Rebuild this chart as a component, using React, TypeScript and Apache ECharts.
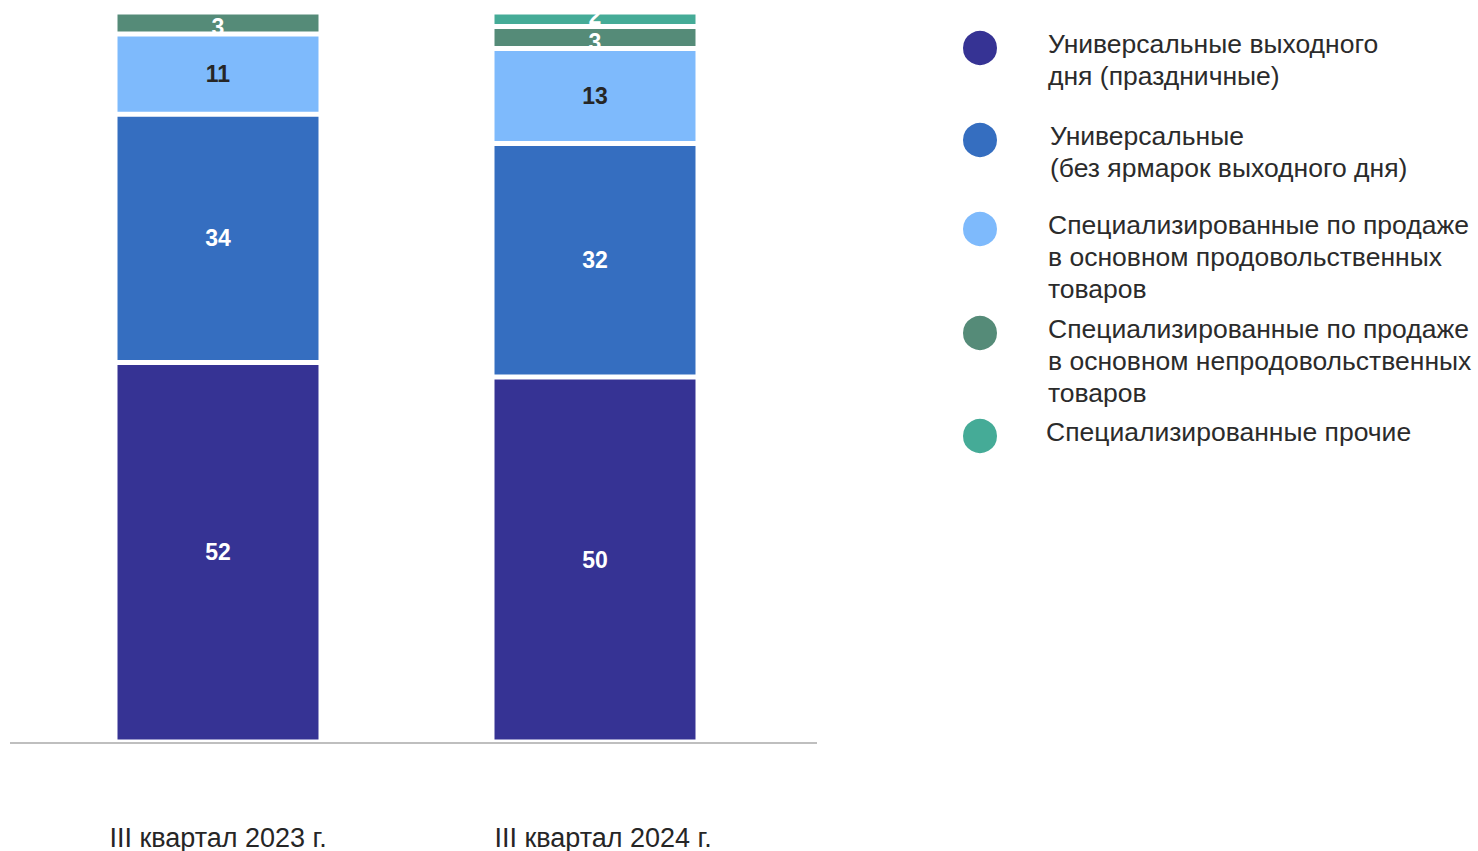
import React, { useEffect, useRef } from "react";
import * as echarts from "echarts";

const categories = ["III квартал 2023 г.", "III квартал 2024 г."];

const seriesNames = [
  "Универсальные выходного дня (праздничные)",
  "Универсальные (без ярмарок выходного дня)",
  "Специализированные по продаже в основном продовольственных товаров",
  "Специализированные по продаже в основном непродовольственных товаров",
  "Специализированные прочие",
];

const legendLines = [
  ["Универсальные выходного", "дня (праздничные)"],
  ["Универсальные", "(без ярмарок выходного дня)"],
  ["Специализированные по продаже", "в основном продовольственных", "товаров"],
  ["Специализированные по продаже", "в основном непродовольственных", "товаров"],
  ["Специализированные прочие"],
];

const holidayFairs = [52, 50];
const universalFairs = [34, 32];
const foodFairs = [11, 13];
const nonFoodFairs = [3, 3];
const otherFairs = [null, 2];

const seriesValues = [holidayFairs, universalFairs, foodFairs, nonFoodFairs, otherFairs];

const colors = ["#363394", "#356EC0", "#7EBAFC", "#558B78", "#45AB97"];
const labelColors = ["#ffffff", "#ffffff", "#262626", "#ffffff", "#ffffff"];
const labelOffsets = [
  [0, 0],
  [0, 0],
  [0, 0],
  [0, 4],
  [0, -3],
];

// legend layout (circle centres) and text x tweaks
const legendCircleY = [48, 140, 229, 333, 436];
const legendTextShift = [0, 2, 0, 0, -2];

export default function App() {
  const ref = useRef<HTMLDivElement>(null);

  useEffect(() => {
    if (!ref.current) return;
    const chart = echarts.init(ref.current, null, { renderer: "svg" });
    const lh = 32;
    const lift = 4; // first text line sits this much above the circle centre

    function makeLegend(name: string, text: string, H: number, e: number, i: number) {
      const top = legendCircleY[i] - Math.max(H, 36) / 2;
      return {
        data: [{ name, icon: "circle" }],
        orient: "vertical",
        left: 961,
        top,
        padding: 0,
        itemWidth: 36,
        itemHeight: 36,
        selectedMode: false,
        formatter: () => text,
        textStyle: {
          fontFamily: "Liberation Sans, Arial, sans-serif",
          fontSize: 26.5,
          color: "#2b2b2b",
          lineHeight: lh,
          padding: [0, 0, 0, 45 + legendTextShift[i]],
          rich: {
            e: { lineHeight: e, fontSize: 1, height: e },
            t: {
              fontFamily: "Liberation Sans, Arial, sans-serif",
              fontSize: 26.5,
              color: "#2b2b2b",
              lineHeight: lh,
            },
          },
        },
      };
    }

    const legends = seriesNames.map((name, i) => {
      const lines = legendLines[i];
      const n = lines.length;
      if (n > 1) {
        const e = (n - 1) * lh - 2 * lift;
        const text = `{e|}\n` + lines.map((l) => `{t|${l}}`).join("\n");
        return makeLegend(name, text, e + n * lh, e, i);
      }
      const e = 2 * lift;
      const text = `{t|${lines[0]}}\n{e|}`;
      return makeLegend(name, text, e + lh, e, i);
    });

    chart.setOption({
      animation: false,
      backgroundColor: "#ffffff",
      grid: { left: 29.5, right: 694.5, top: 12, bottom: 108, containLabel: false },
      legend: legends,
      xAxis: {
        type: "category",
        data: categories,
        axisLine: { show: false },
        axisTick: { show: false },
        axisLabel: {
          margin: 82,
          fontFamily: "Liberation Sans, Arial, sans-serif",
          fontSize: 27,
          color: "#262626",
          formatter: (value: string, index: number) =>
            index === 1 ? `{b|${value}}` : `{a|${value}}`,
          rich: {
            a: { fontFamily: "Liberation Sans, Arial, sans-serif", fontSize: 27, color: "#262626" },
            b: {
              fontFamily: "Liberation Sans, Arial, sans-serif",
              fontSize: 27,
              color: "#262626",
              padding: [0, 0, 0, 16],
            },
          },
        },
      },
      yAxis: {
        type: "value",
        min: 0,
        max: 100,
        show: false,
        splitLine: { show: false },
      },
      graphic: [
        {
          type: "line",
          z: 100,
          shape: { x1: 10, y1: 743, x2: 817, y2: 743 },
          style: { stroke: "#bfbfbf", lineWidth: 2 },
        },
      ],
      series: seriesNames.map((name, i) => ({
        name,
        type: "bar",
        stack: "total",
        barWidth: 206,
        data: seriesValues[i],
        itemStyle: { color: colors[i], borderColor: "#ffffff", borderWidth: 2.5 },
        label: {
          show: true,
          position: "inside",
          offset: labelOffsets[i],
          fontFamily: "Liberation Sans, Arial, sans-serif",
          fontWeight: "bold",
          fontSize: 23,
          color: labelColors[i],
        },
      })),
    });

    return () => chart.dispose();
  }, []);

  return (
    <div
      ref={ref}
      style={{ position: "fixed", left: 0, top: 0, width: 1478, height: 851 }}
    />
  );
}
